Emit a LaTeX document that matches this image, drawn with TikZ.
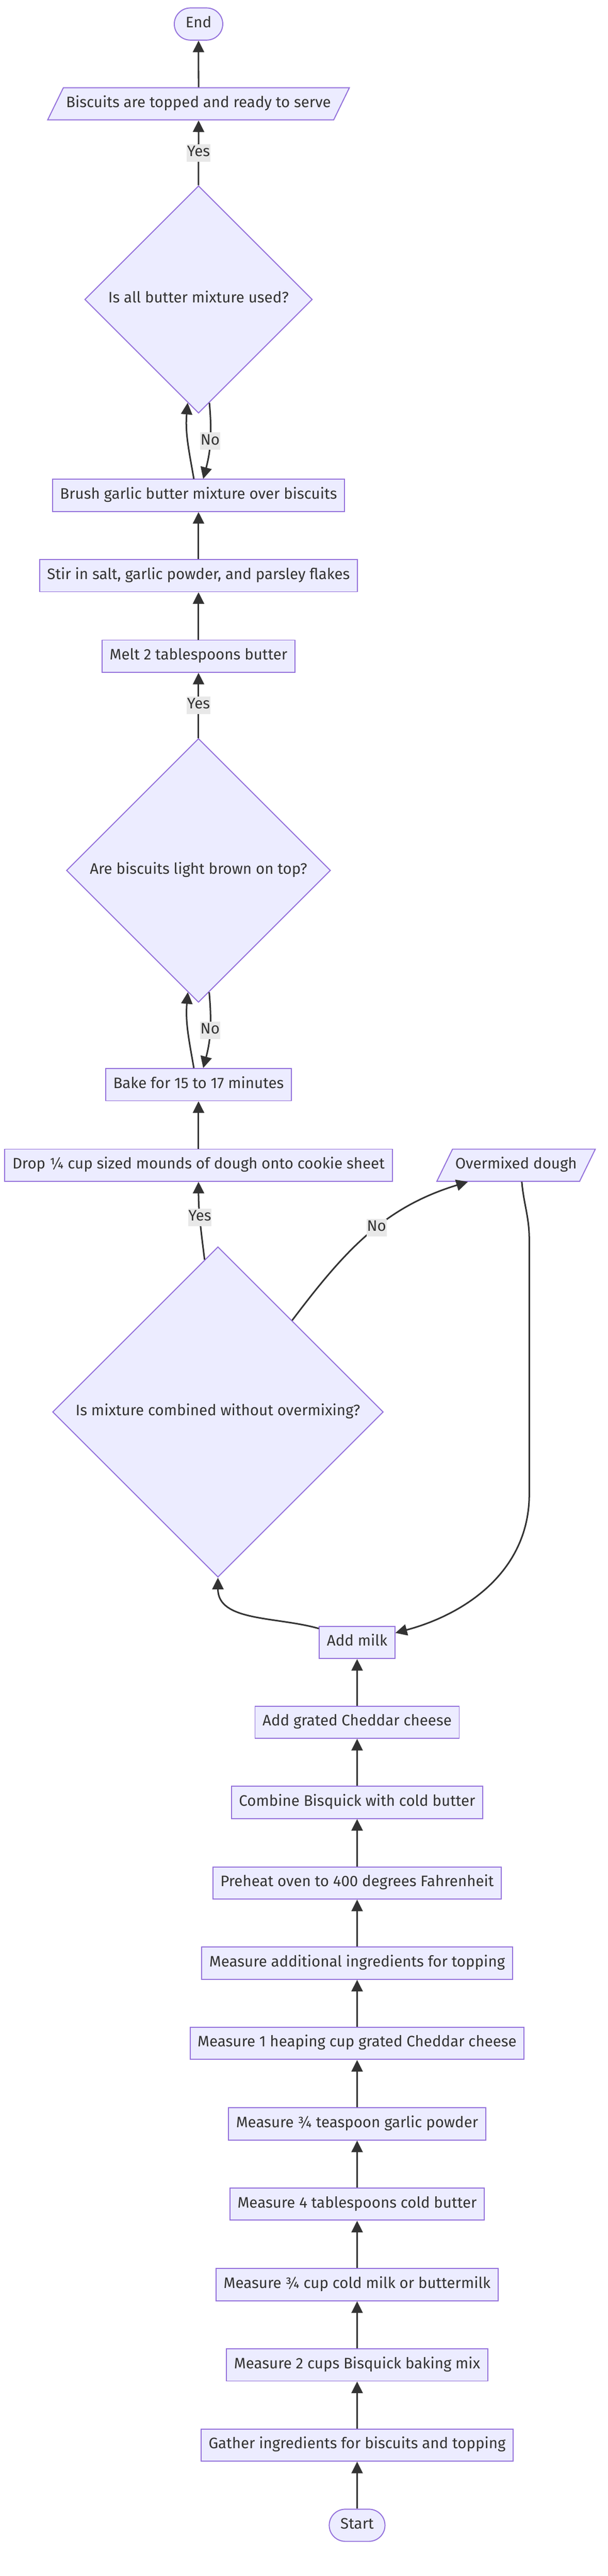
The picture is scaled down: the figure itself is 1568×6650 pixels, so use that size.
\documentclass[tikz,border=0pt]{standalone}
\usepackage{fontspec}
\setmainfont{Fira Sans}
\usetikzlibrary{arrows.meta,shapes.geometric}
\definecolor{boxfill}{HTML}{ECECFF}
\definecolor{boxline}{HTML}{9370DB}
\definecolor{ink}{HTML}{333333}
\definecolor{lblfill}{HTML}{E8E8E8}
\tikzset{
    base/.style={draw=boxline, fill=boxfill, line width=1.3pt, text=ink,
        font=\fontsize{19.6}{23.5}\selectfont, text height=13pt, text depth=4pt},
    stepbox/.style={base, rectangle, inner xsep=9.75pt, inner ysep=12.25pt},
    iobox/.style={base, trapezium, trapezium left angle=64, trapezium right angle=116,
        inner xsep=3.5pt, inner ysep=12.25pt},
    termbox/.style={base, rectangle, rounded corners=20.75pt, inner xsep=14.5pt, inner ysep=12.25pt},
    decision/.style={base, diamond, aspect=1, inner sep=0pt},
    flow/.style={draw=ink, line width=2pt, -{Triangle[length=15pt,width=14.5pt]}},
    lbl/.style={fill=lblfill, text=ink, font=\fontsize{19.6}{23.5}\selectfont,
        text height=13pt, text depth=4pt, inner xsep=0.5pt, inner ysep=2.75pt}
}
\begin{document}
\begin{tikzpicture}[x=0.5pt, y=-0.5pt]
        \useasboundingbox (0,0) rectangle (1568,6650);

        % topping branch
        \node[termbox] (endn) at (512,62) {End};
        \node[iobox] (served) at (512,268) {Biscuits are topped and ready to serve};
        \node[decision, minimum size=293.5pt] (q1) at (512,773) {Is all butter mixture used?};
        \node[stepbox] (brush) at (512,1279) {Brush garlic butter mixture over biscuits};
        \node[stepbox] (stir) at (512,1486) {Stir in salt, garlic powder, and parsley flakes};
        \node[stepbox] (melt) at (512,1694) {Melt 2 tablespoons butter};

        % baking branch
        \node[decision, minimum size=340.5pt] (q2) at (512,2247) {Are biscuits light brown on top?};
        \node[stepbox] (bake) at (512,2800) {Bake for 15 to 17 minutes};
        \node[stepbox] (drop) at (512,3008) {Drop ¼ cup sized mounds of dough onto cookie sheet};
        \node[iobox] (over) at (1331,3008) {Overmixed dough};
        \node[decision, minimum size=426.5pt] (q3) at (562,3645) {Is mixture combined without overmixing?};

        % preparation
        \node[stepbox] (milk) at (921,4240) {Add milk};
        \node[stepbox] (cheese) at (921,4446) {Add grated Cheddar cheese};
        \node[stepbox] (combine) at (921,4653) {Combine Bisquick with cold butter};
        \node[stepbox] (preheat) at (921,4861) {Preheat oven to 400 degrees Fahrenheit};
        \node[stepbox] (addl) at (921,5068) {Measure additional ingredients for topping};
        \node[stepbox] (mcheese) at (921,5275) {Measure 1 heaping cup grated Cheddar cheese};
        \node[stepbox] (garlic) at (921,5483) {Measure ¾ teaspoon garlic powder};
        \node[stepbox] (butter) at (921,5690) {Measure 4 tablespoons cold butter};
        \node[stepbox] (milkm) at (921,5898) {Measure ¾ cup cold milk or buttermilk};
        \node[stepbox] (bisq) at (921,6105) {Measure 2 cups Bisquick baking mix};
        \node[stepbox] (gather) at (921,6312) {Gather ingredients for biscuits and topping};
        \node[termbox] (start) at (921,6519) {Start};

        \coordinate (down1) at (1365,3200);
        \coordinate (down2) at (1365,3857);

        \draw[flow] (start) -- (gather);
        \draw[flow] (gather) -- (bisq);
        \draw[flow] (bisq) -- (milkm);
        \draw[flow] (milkm) -- (butter);
        \draw[flow] (butter) -- (garlic);
        \draw[flow] (garlic) -- (mcheese);
        \draw[flow] (mcheese) -- (addl);
        \draw[flow] (addl) -- (preheat);
        \draw[flow] (preheat) -- (combine);
        \draw[flow] (combine) -- (cheese);
        \draw[flow] (cheese) -- (milk);

        \draw[flow] (milk.160) to[out=164, in=-90] (q3.south);
        \draw[flow] (q3.95) to[out=97, in=-90] node[lbl, pos=0.55] {Yes} (drop.south);
        \draw[flow] (q3.51) to[out=53, in=197] node[lbl, pos=0.55] {No} (over.199);
        \draw[flow] (over.-71) to[out=-85, in=90] (down1) -- (down2) to[out=-90, in=15] (milk.14);

        \draw[flow] (drop) -- (bake);
        \draw[flow] ([xshift=-6pt]bake.north) to[out=100, in=-95] (q2.265);
        \draw[flow] (q2.275) to[out=-85, in=75] node[lbl] {No} ([xshift=6pt]bake.north);
        \draw[flow] (q2.north) -- node[lbl] {Yes} (melt.south);
        \draw[flow] (melt) -- (stir);
        \draw[flow] (stir) -- (brush);
        \draw[flow] ([xshift=-6pt]brush.north) to[out=100, in=-95] (q1.264);
        \draw[flow] (q1.276) to[out=-85, in=75] node[lbl] {No} ([xshift=6pt]brush.north);
        \draw[flow] (q1.north) -- node[lbl] {Yes} (served.south);
        \draw[flow] (served) -- (endn);
    \end{tikzpicture}
\end{document}
